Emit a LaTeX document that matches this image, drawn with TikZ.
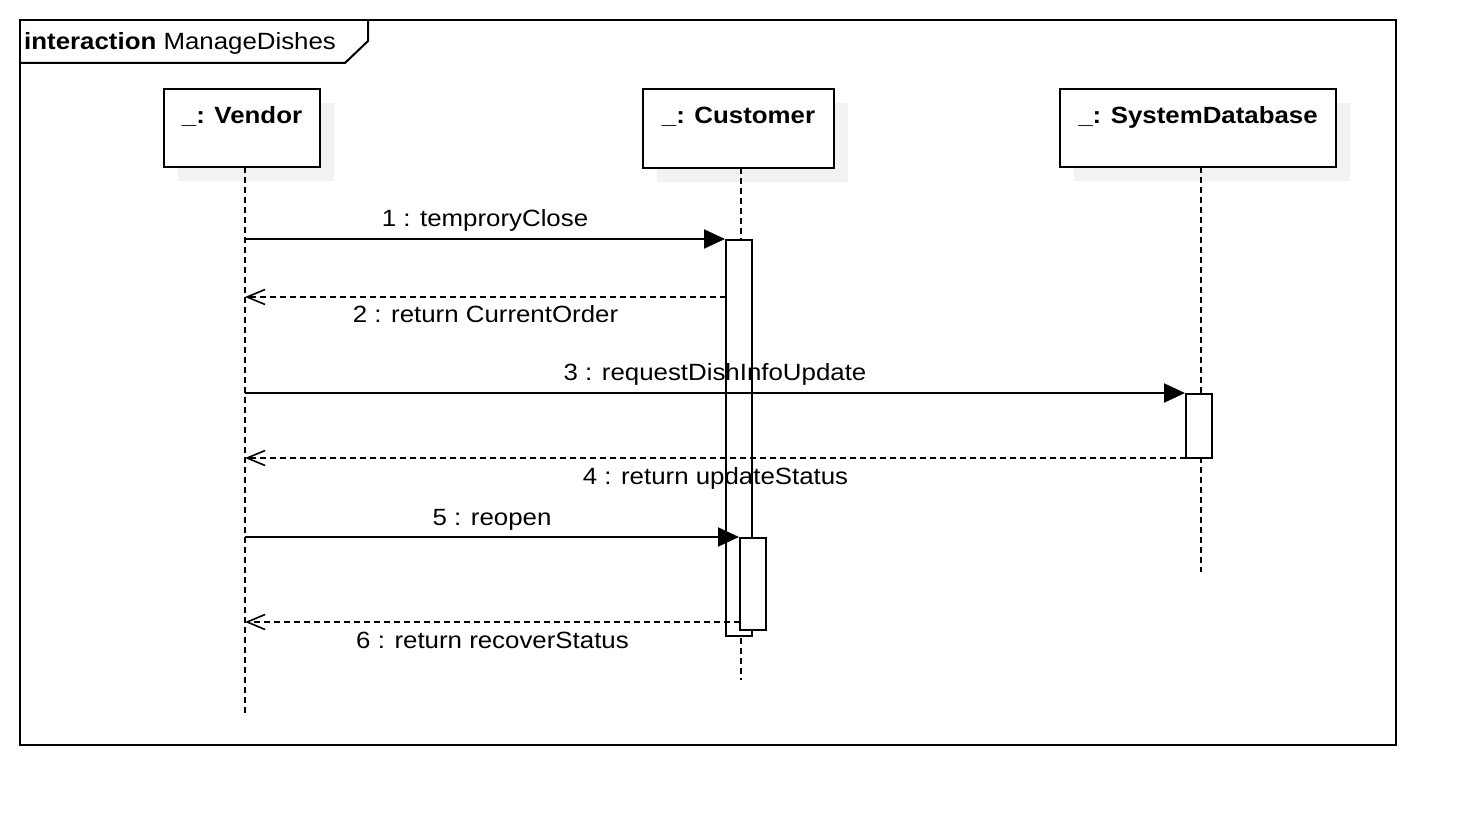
\documentclass[tikz,border=0pt]{standalone}
\usepackage{fontspec}
\setmainfont{Liberation Sans}[FakeStretch=1.1]
\usetikzlibrary{arrows.meta}
\definecolor{shadowc}{HTML}{F2F2F2}
\begin{document}
\begin{tikzpicture}[x=1pt,y=-1pt,
  lw/.style={line width=2pt},
  txt/.style={font=\fontsize{23.5}{28}\selectfont, inner sep=0pt},
  objbox/.style={lw, draw=black, fill=white, inner sep=0pt},
  shadowbox/.style={fill=shadowc},
  lifeline/.style={lw, dash pattern=on 6pt off 4pt},
  actbox/.style={lw, draw=black, fill=white, inner sep=0pt, minimum width=26pt},
  syncmsg/.style={lw, -{Triangle[length=21pt,width=19pt]}},
  retmsg/.style={lw, dash pattern=on 6pt off 4pt, -{Straight Barb[length=18pt,width=15pt,line width=1.6pt]}},
  lblabove/.style={txt, midway, anchor=base, yshift=12pt},
  lblbelow/.style={txt, midway, anchor=base, yshift=-26pt}
]
\useasboundingbox (0,0) rectangle (1476,826);
\fill[white] (0,0) rectangle (1476,826);

% frame
\draw[lw] (20,20) rectangle (1396,745);
\draw[lw] (20,63) -- (345,63) -- (368,41) -- (368,20);
\node[txt, anchor=base west] (title) at (24,50) {\textbf{interaction} ManageDishes};

% shadows
\fill[shadowbox] (178,103) rectangle (334,181);
\fill[shadowbox] (657,103) rectangle (848,182);
\fill[shadowbox] (1074,103) rectangle (1350,181);

% lifeline coordinates
\coordinate (vtop) at (245,167);
\coordinate (vbot) at (245,715);
\coordinate (ctop) at (741,168);
\coordinate (cbot) at (741,680);
\coordinate (stop) at (1201,167);
\coordinate (sbot) at (1201,572);

% lifelines
\draw[lifeline] (vtop) -- (vbot);
\draw[lifeline] (ctop) -- (cbot);
\draw[lifeline] (stop) -- (sbot);

% object boxes
\node[objbox, minimum width=156pt, minimum height=78pt] (vendor) at (242,128) {};
\node[objbox, minimum width=191pt, minimum height=79pt] (customer) at (738.5,128.5) {};
\node[objbox, minimum width=276pt, minimum height=78pt] (sysdb) at (1198,128) {};
\node[txt, anchor=base] (vendorT) at (242,124) {\textbf{\_: Vendor}};
\node[txt, anchor=base] (customerT) at (738.5,124) {\textbf{\_: Customer}};
\node[txt, anchor=base] (sysdbT) at (1198,124) {\textbf{\_: SystemDatabase}};

% activations
\node[actbox, minimum height=396pt] (act1) at (739,438) {};
\node[actbox, minimum height=64pt] (act3) at (1199,426) {};
\node[actbox, minimum height=92pt] (act2) at (753,584) {};

% message end points
\coordinate (m2a) at (726,297);
\coordinate (m4a) at (1186,458);
\coordinate (m6a) at (740,622);

% messages
\draw[syncmsg] (act1.north west -| vtop) -- (act1.north west)
  node[lblabove] (l1) {1 : temproryClose};
\draw[retmsg] (m2a) -- (m2a -| vtop)
  node[lblbelow] (l2) {2 : return CurrentOrder};
\draw[syncmsg] (act3.north west -| vtop) -- (act3.north west)
  node[lblabove] (l3) {3 : requestDishInfoUpdate};
\draw[retmsg] (m4a) -- (m4a -| vtop)
  node[lblbelow] (l4) {4 : return updateStatus};
\draw[syncmsg] (act2.north west -| vtop) -- (act2.north west)
  node[lblabove] (l5) {5 : reopen};
\draw[retmsg] (m6a) -- (m6a -| vtop)
  node[lblbelow] (l6) {6 : return recoverStatus};
\end{tikzpicture}
\end{document}
